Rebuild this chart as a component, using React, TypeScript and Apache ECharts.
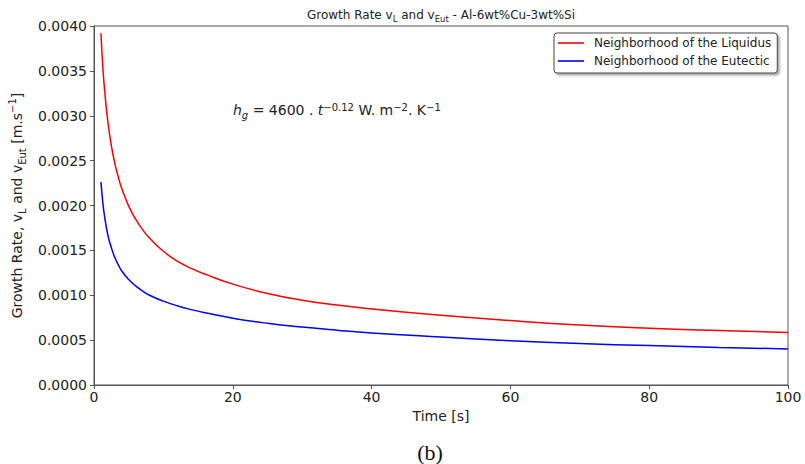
import React, { useEffect, useRef } from "react";
import * as echarts from "echarts";

// Time [s]
const timeValues = [1, 1.25, 1.5, 2, 2.5, 3, 3.5, 4, 5, 6, 7, 8, 10, 12, 14, 16, 20, 25, 30, 35, 40, 50, 60, 70, 80, 90, 100];
// Growth rate, neighborhood of the liquidus [m/s]
const liquidusRate = [0.00392, 0.00357, 0.00331, 0.00293, 0.002668, 0.00247, 0.002317, 0.002189, 0.001993, 0.001847, 0.001731, 0.001637, 0.00149, 0.00138, 0.0013, 0.001235, 0.001124, 0.00102, 0.000944, 0.000891, 0.000848, 0.000777, 0.000718, 0.000668, 0.000632, 0.000606, 0.000585];
// Growth rate, neighborhood of the eutectic [m/s]
const eutecticRate = [0.00226, 0.00205, 0.00189, 0.00167, 0.00153, 0.00142, 0.00134, 0.00127, 0.001176, 0.001104, 0.001047, 0.001, 0.000935, 0.000882, 0.00084, 0.000805, 0.000745, 0.000688, 0.000645, 0.00061, 0.00058, 0.000535, 0.000494, 0.000462, 0.000439, 0.000419, 0.000402];

const seriesNames = ["Neighborhood of the Liquidus", "Neighborhood of the Eutectic"];
const seriesColors = ["#ff0000", "#0000ff"];

const FONT = "DejaVu Sans";
const TEXT = "#222";
const AXIS = "#555";

export default function App() {
  const ref = useRef<HTMLDivElement>(null);

  useEffect(() => {
    document.body.style.margin = "0";
    if (!ref.current) return;
    const chart = echarts.init(ref.current, null, { renderer: "svg" });

    const mainTok = { fontSize: 14, lineHeight: 16, padding: [4, 0, 0, 0], verticalAlign: "top", fontFamily: FONT, color: TEXT };
    const subTok = { fontSize: 10, lineHeight: 10, padding: [11, 0, 0, 0], verticalAlign: "top", fontFamily: FONT, color: TEXT };
    const supTok = { fontSize: 10, lineHeight: 10, padding: [2, 0, 0, 0], verticalAlign: "top", fontFamily: FONT, color: TEXT };

    const option: any = {
      animation: false,
      textStyle: { fontFamily: FONT },
      title: {
        text: "{m|Growth Rate v}{s|L}{m| and v}{s|Eut}{m| - Al-6wt%Cu-3wt%Si}",
        left: 441,
        top: 9,
        textAlign: "center",
        padding: 0,
        textStyle: {
          fontFamily: FONT,
          fontWeight: "normal",
          fontSize: 12,
          color: TEXT,
          rich: {
            m: { fontSize: 12, lineHeight: 14, padding: [0, 0, 0, 0], verticalAlign: "top", fontFamily: FONT, color: TEXT },
            s: { fontSize: 8.5, lineHeight: 9, padding: [5, 0, 0, 0], verticalAlign: "top", fontFamily: FONT, color: TEXT },
          },
        },
      },
      legend: {
        orient: "vertical",
        left: 554,
        top: 33,
        padding: [3, 6, 5, 4],
        icon: "rect",
        itemWidth: 26,
        itemHeight: 1.6,
        itemGap: 4,
        data: seriesNames,
        backgroundColor: "#fff",
        borderColor: "#444",
        borderWidth: 1,
        borderRadius: 3,
        shadowColor: "rgba(0,0,0,0.35)",
        shadowBlur: 2,
        shadowOffsetX: 2,
        shadowOffsetY: 2,
        textStyle: { fontSize: 12, lineHeight: 14, color: TEXT, fontFamily: FONT, padding: [0, 0, 0, 5] },
      },
      grid: {
        left: 94,
        right: 17,
        top: 26,
        bottom: 79,
        show: true,
        borderColor: AXIS,
        borderWidth: 1,
        outerBoundsMode: "none",
      },
      xAxis: {
        type: "value",
        min: 0,
        max: 100,
        interval: 20,
        name: "Time [s]",
        nameLocation: "middle",
        nameGap: 24,
        nameTextStyle: { fontSize: 14, color: TEXT, fontFamily: FONT },
        axisLine: { show: true, lineStyle: { color: AXIS, width: 1 } },
        axisTick: { show: true, length: 4, lineStyle: { color: AXIS } },
        axisLabel: { fontSize: 14, color: TEXT, margin: 5, fontFamily: FONT },
        splitLine: { show: false },
      },
      yAxis: {
        type: "value",
        min: 0,
        max: 0.004,
        interval: 0.0005,
        name: "{m|Growth Rate, v}{sub|L}{m| and v}{sub|Eut}{m| [m.s}{sup|−1}{m|]}",
        nameLocation: "middle",
        nameRotate: 90,
        nameGap: 65,
        nameTextStyle: {
          fontSize: 14,
          color: TEXT,
          fontFamily: FONT,
          rich: { m: mainTok, sub: subTok, sup: { ...supTok, padding: [1, 0, 0, 0] } },
        },
        axisLine: { show: true, lineStyle: { color: AXIS, width: 1 } },
        axisTick: { show: true, length: 4, lineStyle: { color: AXIS } },
        axisLabel: {
          fontSize: 14,
          color: TEXT,
          margin: 7,
          fontFamily: FONT,
          formatter: (v: number) => v.toFixed(4),
        },
        splitLine: { show: false },
      },
      series: [liquidusRate, eutecticRate].map((vals, i) => ({
        type: "line",
        name: seriesNames[i],
        data: timeValues.map((t, j) => [t, vals[j]]),
        showSymbol: false,
        symbol: "none",
        smooth: 0.5,
        lineStyle: { color: seriesColors[i], width: 1.5 },
        itemStyle: { color: seriesColors[i] },
      })),
      graphic: [
        {
          type: "text",
          x: 233,
          y: 99,
          style: {
            text: "{i|h}{sb|g}{m| = 4600 . }{i|t}{sp|−0.12}{m| W. m}{sp|−2}{m|. K}{sp|−1}",
            align: "left",
            verticalAlign: "top",
            textAlign: "left",
            textVerticalAlign: "top",
            fill: TEXT,
            rich: {
              m: mainTok,
              i: { ...mainTok, fontStyle: "italic" },
              sb: { ...subTok, fontStyle: "italic" },
              sp: { ...supTok, padding: [3, 0, 0, 0] },
            },
          },
        },
        {
          type: "text",
          x: 430,
          y: 452,
          style: {
            text: "(b)",
            align: "center",
            verticalAlign: "middle",
            textAlign: "center",
            textVerticalAlign: "middle",
            fontSize: 22,
            fontFamily: "Liberation Serif",
            fill: "#111",
          },
        },
      ],
    };

    chart.setOption(option);
    return () => chart.dispose();
  }, []);

  return <div ref={ref} style={{ width: 805, height: 464 }} />;
}
